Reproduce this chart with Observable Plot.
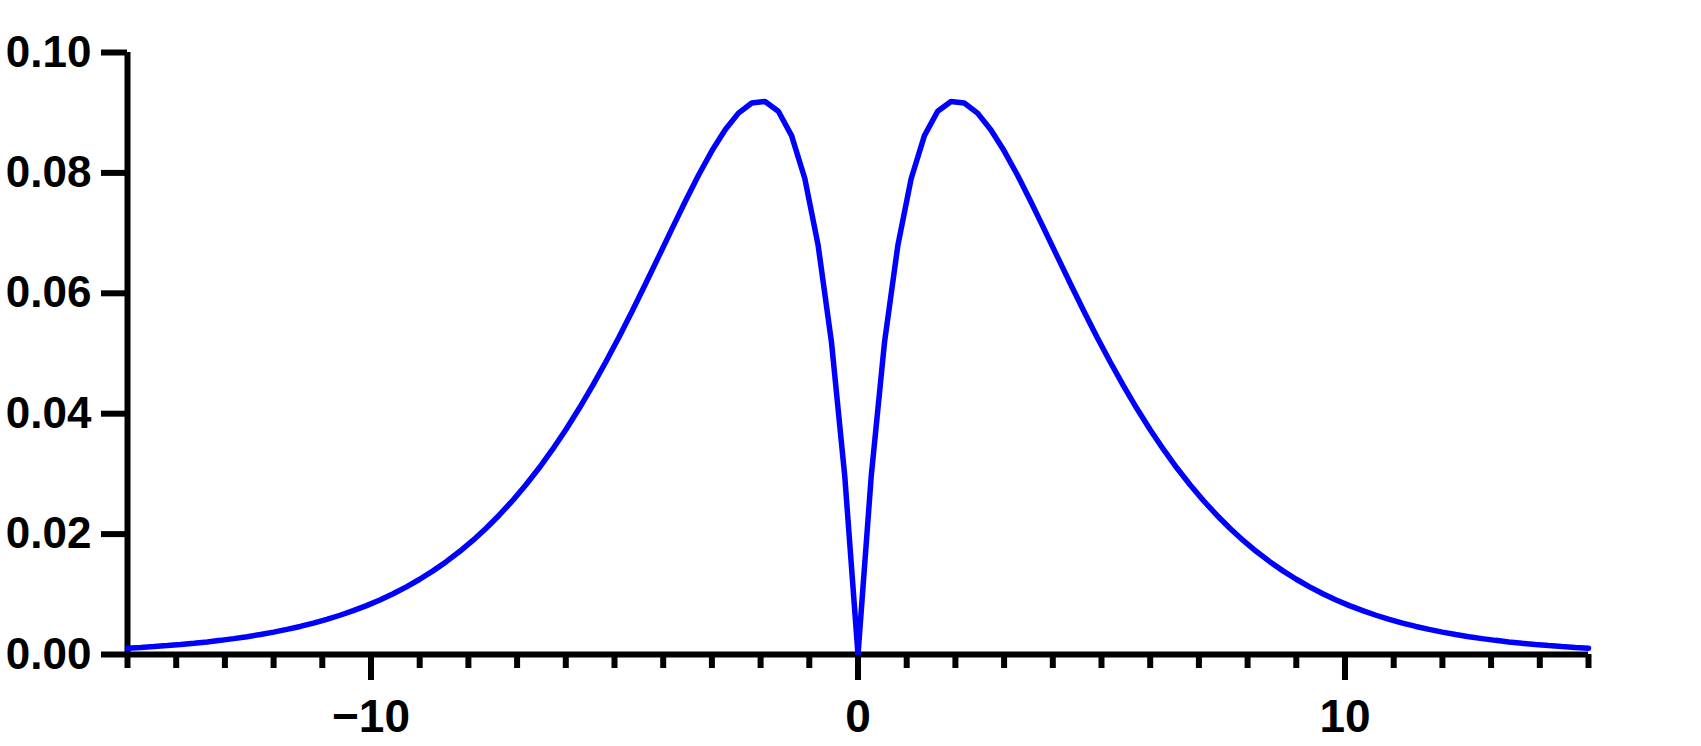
<!DOCTYPE html>
<html>
<head>
<meta charset="utf-8">
<script src="https://cdn.jsdelivr.net/npm/d3@7"></script>
<script src="https://cdn.jsdelivr.net/npm/@observablehq/plot@0.6"></script>
<style>
  html, body { margin: 0; padding: 0; background: #fff; }
  #chart svg { display: block; }
</style>
</head>
<body>
<div id="chart"></div>
<script>
const xValues = [
  -15, -14.727, -14.455, -14.182, -13.909, -13.636, -13.364, -13.091, -12.818, -12.545,
  -12.273, -12, -11.727, -11.455, -11.182, -10.909, -10.636, -10.364, -10.091, -9.818,
  -9.545, -9.273, -9, -8.727, -8.455, -8.182, -7.909, -7.636, -7.364, -7.091,
  -6.818, -6.545, -6.273, -6, -5.727, -5.455, -5.182, -4.909, -4.636, -4.364,
  -4.091, -3.818, -3.545, -3.273, -3, -2.727, -2.455, -2.182, -1.909, -1.636,
  -1.364, -1.091, -0.818, -0.545, -0.273, 0,
  0.273, 0.545, 0.818, 1.091, 1.364, 1.636, 1.909, 2.182, 2.455, 2.727,
  3, 3.273, 3.545, 3.818, 4.091, 4.364, 4.636, 4.909, 5.182, 5.455,
  5.727, 6, 6.273, 6.545, 6.818, 7.091, 7.364, 7.636, 7.909, 8.182,
  8.455, 8.727, 9, 9.273, 9.545, 9.818, 10.091, 10.364, 10.636, 10.909,
  11.182, 11.455, 11.727, 12, 12.273, 12.545, 12.818, 13.091, 13.364, 13.636,
  13.909, 14.182, 14.455, 14.727, 15
];
const yValues = [
  0.00104, 0.00117, 0.00131, 0.00148, 0.00166, 0.00187, 0.00209, 0.00235, 0.00264, 0.00296,
  0.00332, 0.00372, 0.00417, 0.00466, 0.00522, 0.00583, 0.00652, 0.00728, 0.00812, 0.00906,
  0.01009, 0.01124, 0.01250, 0.01389, 0.01542, 0.01710, 0.01895, 0.02097, 0.02318, 0.02558,
  0.02819, 0.03101, 0.03406, 0.03734, 0.04085, 0.04459, 0.04855, 0.05271, 0.05706, 0.06155,
  0.06613, 0.07074, 0.07528, 0.07965, 0.08367, 0.08718, 0.08993, 0.09161, 0.09187, 0.09025,
  0.08620, 0.07903, 0.06794, 0.05191, 0.02975, 0,
  0.02975, 0.05191, 0.06794, 0.07903, 0.08620, 0.09025, 0.09187, 0.09161, 0.08993, 0.08718,
  0.08367, 0.07965, 0.07528, 0.07074, 0.06613, 0.06155, 0.05706, 0.05271, 0.04855, 0.04459,
  0.04085, 0.03734, 0.03406, 0.03101, 0.02819, 0.02558, 0.02318, 0.02097, 0.01895, 0.01710,
  0.01542, 0.01389, 0.01250, 0.01124, 0.01009, 0.00906, 0.00812, 0.00728, 0.00652, 0.00583,
  0.00522, 0.00466, 0.00417, 0.00372, 0.00332, 0.00296, 0.00264, 0.00235, 0.00209, 0.00187,
  0.00166, 0.00148, 0.00131, 0.00117, 0.00104
];
const xMajorTicks = [-10, 0, 10];
const xMinorTicks = [-15, -14, -13, -12, -11, -9, -8, -7, -6, -5, -4, -3, -2, -1,
  1, 2, 3, 4, 5, 6, 7, 8, 9, 11, 12, 13, 14, 15];
const yTicks = [0, 0.02, 0.04, 0.06, 0.08, 0.10];
const yTickLabels = ["0.00", "0.02", "0.04", "0.06", "0.08", "0.10"];
const xTickLabels = ["\u221210", "0", "10"];

const data = xValues.map((x, i) => ({x, y: yValues[i]}));

const chart = Plot.plot({
  width: 1701,
  height: 746,
  marginLeft: 127,
  marginRight: 113,
  marginTop: 52,
  marginBottom: 92,
  style: {fontFamily: "'Liberation Sans', Arial, sans-serif", fontSize: "44px", fontWeight: "bold", color: "#000", background: "#fff"},
  x: {domain: [-15, 15]},
  y: {domain: [0, 0.1]},
  marks: [
    // y ticks and labels
    Plot.axisY({ticks: yTicks, tickSize: 26, strokeWidth: 6, stroke: "#000", text: null, label: null}),
    Plot.axisY({ticks: yTicks, tickSize: 0, tickPadding: 36, tick: null,
      tickFormat: d => yTickLabels[yTicks.indexOf(d)], label: null, fill: "#000", fontSize: 44}),
    // x ticks and labels
    Plot.axisX({ticks: xMinorTicks, tickSize: 14, strokeWidth: 6, stroke: "#000", text: null, label: null}),
    Plot.axisX({ticks: xMajorTicks, tickSize: 26, strokeWidth: 6, stroke: "#000", text: null, label: null}),
    Plot.axisX({ticks: xMajorTicks, tickSize: 0, tickPadding: 45,
      tickFormat: d => xTickLabels[xMajorTicks.indexOf(d)], label: null, fill: "#000", fontSize: 46}),
    // axis lines
    Plot.ruleX([-15], {y1: 0, y2: 0.1, stroke: "#000", strokeWidth: 6}),
    Plot.ruleY([0], {x1: -15, x2: 15, stroke: "#000", strokeWidth: 6}),
    // curve
    Plot.line(data, {x: "x", y: "y", stroke: "#0000ff", strokeWidth: 5.5, strokeLinejoin: "miter"})
  ]
});
document.getElementById("chart").appendChild(chart);
</script>
</body>
</html>
